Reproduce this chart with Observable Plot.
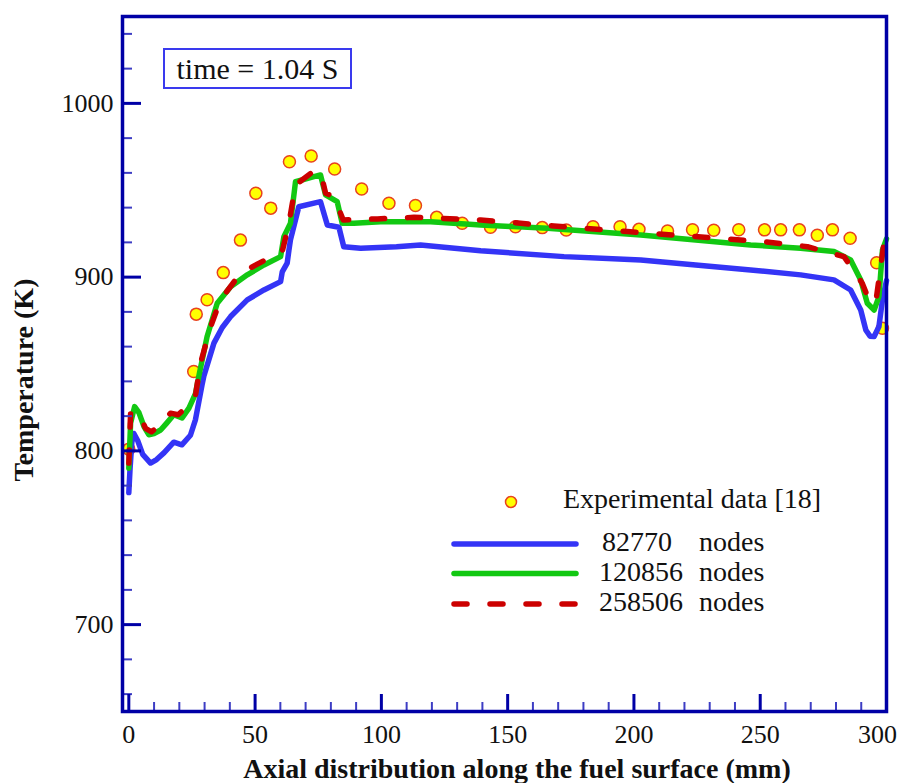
<!DOCTYPE html>
<html>
<head>
<meta charset="utf-8">
<script src="https://cdn.jsdelivr.net/npm/d3@7"></script>
<script src="https://cdn.jsdelivr.net/npm/@observablehq/plot@0.6"></script>
<style>
  html, body { margin: 0; padding: 0; background: #fff; }
  #wrap { position: relative; width: 901px; height: 783px; font-family: "Liberation Serif", "DejaVu Serif", serif; overflow: hidden; }
  #timebox {
    position: absolute; left: 163px; top: 48px; width: 185px; height: 37px;
    border: 2.5px solid #3a3aee; background: #fff;
    font-size: 30px; line-height: 37px; text-align: center; color: #111;
  }
  #overlay { position: absolute; left: 0; top: 0; pointer-events: none; }
  #overlay text { font-family: "Liberation Serif", "DejaVu Serif", serif; fill: #111; }
  #overlay .leg { font-size: 28px; dominant-baseline: middle; }
  #overlay .title { font-size: 28px; font-weight: bold; text-anchor: middle; }
</style>
</head>
<body>
<div id="wrap">
  <div id="chart"></div>
  <div id="timebox">time = 1.04 S</div>
  <svg id="overlay" width="901" height="783"></svg>
</div>
<script>
// Axial position (mm) and surface temperature (K)

// Experimental measurements [18]
const expX = [0, 25.7, 26.7, 31.0, 37.4, 44.2, 50.3, 56.2, 63.6, 72.2, 81.5, 92.2, 103, 113.5, 121.9, 132, 143.2, 153.1, 163.7, 173.2, 183.8, 194.5, 202, 213.3, 223.2, 231.6, 241.5, 251.7, 258.1, 265.5, 272.6, 278.6, 285.6, 296.1, 298.4];
const expT = [801, 845.7, 878.7, 887, 902.6, 921.3, 948.3, 939.7, 966.4, 969.7, 962.2, 950.7, 942.5, 941.2, 934.4, 931, 928.7, 929, 928.5, 927.1, 929, 929, 927.5, 926.5, 927.3, 927, 927.3, 927.2, 927.2, 927.2, 924.1, 927.2, 922.4, 908.3, 870.6];

// Coarse mesh: 82770 nodes
const coarseX = [0, 0.5, 1.2, 2, 3.5, 5.5, 8.6, 11, 14, 17.8, 21, 24.4, 26.4, 29, 29.7, 33.7, 37, 40.3, 46.9, 53.5, 60.1, 60.75, 62.7, 63.4, 64, 67.3, 74.6, 75.9, 78.6, 83.2, 85.1, 91.8, 106, 115.5, 139.3, 172.3, 202.7, 246.2, 266, 279.2, 285.8, 289.8, 291.8, 293.5, 295.1, 297, 298.4, 300];
const coarseT = [776, 790, 805, 810, 806, 798, 793, 795, 799, 805, 803.5, 809, 818, 838, 843, 862, 871, 877.3, 886.9, 892.6, 897.4, 903, 908, 915.6, 921.4, 940.5, 943, 943.4, 930, 928.7, 917.5, 916.6, 917.5, 918.5, 915.2, 911.8, 909.9, 904.1, 901.3, 898.4, 892.6, 881.1, 869.6, 866, 865.8, 871.5, 886.9, 898];

// Medium mesh: 120856 nodes
const mediumX = [0, 0.7, 2.3, 4, 6, 7.9, 10, 12.6, 15, 17.8, 21.1, 23.8, 26.4, 28, 31, 35, 40.3, 46.9, 53.5, 60.1, 61.4, 64, 66, 73.3, 75.9, 77.9, 82.5, 84.5, 89.1, 99.7, 119.5, 139.3, 165.7, 202.7, 246.2, 266, 279.2, 285.8, 289.8, 292.4, 295.1, 297, 298.4, 300];
const mediumT = [790, 816, 825.5, 822, 814, 809.3, 810, 812, 816, 820.8, 818.9, 824.6, 833, 845, 865.8, 885, 894.5, 901.3, 907, 911.8, 923.3, 931, 954.9, 957.8, 958.8, 947.3, 943.4, 931, 931, 931.9, 931.9, 930, 928.1, 924.3, 918.5, 916.6, 914.7, 909.9, 898.4, 885, 881.1, 888.8, 915.6, 922];

// Fine mesh: 258506 nodes
const fineX = [0, 0.7, 2.3, 4.6, 6.6, 9, 12.6, 16.5, 19.5, 23.1, 26.4, 28.4, 32.4, 36.3, 44.2, 55.4, 60.75, 63.4, 66, 72, 75.9, 77.9, 81.2, 84.9, 98.4, 112.9, 139.3, 168.3, 197.4, 251.5, 268.7, 283.2, 290.4, 293, 295.7, 297.7, 300];
const fineT = [793, 821.7, 823, 819.8, 813, 811, 815, 821.7, 820.8, 825.5, 832, 850.5, 871.5, 886.9, 902.2, 911, 914.7, 931, 953, 959.7, 960.7, 948.3, 946.3, 932.9, 933.5, 934.4, 932.9, 929.4, 926.2, 920.4, 917.5, 911.8, 896.5, 887, 885, 906, 930];

// Axis ticks
const xMajor = [0, 50, 100, 150, 200, 250, 300];
const yMajor = [700, 800, 900, 1000];
const xMinor = d3.range(10, 300, 10).filter(v => v % 50 !== 0);
const yMinor = d3.range(660, 1050, 20).filter(v => v % 100 !== 0);

const seriesNames = ["82770", "120856", "258506"];
const seriesColors = ["#3434f6", "#12c812", "#cc0000"];
const xTitle = "Axial distribution along the fuel surface (mm)";
const yTitle = "Temperature (K)";

const zip = (xs, ys) => xs.map((x, i) => ({x, y: ys[i]}));
const experiment = zip(expX, expT);
const coarse = zip(coarseX, coarseT);
const medium = zip(mediumX, mediumT);
const fine = zip(fineX, fineT);

const axisBlue = "#0000a6";
const minorBlue = "#3d3dc4";
const serif = '"Liberation Serif", "DejaVu Serif", serif';
const xLast = xMajor[xMajor.length - 1];

const chart = Plot.plot({
  width: 901,
  height: 783,
  marginLeft: 122,
  marginRight: 15,
  marginTop: 16,
  marginBottom: 72,
  x: {domain: [-2.5, 300], label: null},
  y: {domain: [650, 1050], label: null},
  style: {background: "#fff", fontFamily: serif, fontSize: "26px", color: "#111", overflow: "visible"},
  marks: [
    Plot.dot(experiment, {x: "x", y: "y", r: 6, fill: "#ffff00", stroke: "#e8421e", strokeWidth: 1.5}),
    Plot.line(coarse, {x: "x", y: "y", stroke: seriesColors[0], strokeWidth: 5.5, strokeLinejoin: "round", strokeLinecap: "round"}),
    Plot.line(medium, {x: "x", y: "y", stroke: seriesColors[1], strokeWidth: 5.5, strokeLinejoin: "round", strokeLinecap: "round"}),
    Plot.line(fine, {x: "x", y: "y", stroke: seriesColors[2], strokeWidth: 5.5, strokeDasharray: "13,23", strokeLinecap: "round", strokeLinejoin: "round"}),

    // inward tick marks
    Plot.axisX({ticks: xMinor, tickSize: -9, tickFormat: () => "", stroke: minorBlue, strokeWidth: 2, label: null}),
    Plot.axisY({ticks: yMinor, tickSize: -10, tickFormat: () => "", stroke: minorBlue, strokeWidth: 2, label: null}),
    Plot.axisX({ticks: xMajor, tickSize: -17, tickFormat: () => "", stroke: axisBlue, strokeWidth: 3, label: null}),
    Plot.axisY({ticks: yMajor, tickSize: -19, tickFormat: () => "", stroke: axisBlue, strokeWidth: 3, label: null}),

    // tick labels (the last x label is nudged inward so it stays on the page)
    Plot.axisX({ticks: xMajor.slice(0, -1), tickSize: 0, tickPadding: 13, fontSize: 26, fill: "#111", tickFormat: d => String(d), label: null}),
    Plot.axisX({ticks: [xLast], tickSize: 0, tickPadding: 13, dx: -9, fontSize: 26, fill: "#111", tickFormat: d => String(d), label: null}),
    Plot.axisY({ticks: yMajor, tickSize: 0, tickPadding: 9, fontSize: 26, fill: "#111", tickFormat: d => String(d), label: null}),

    Plot.frame({stroke: axisBlue, strokeWidth: 3.5})
  ]
});
document.getElementById("chart").appendChild(chart);

// Axis titles, legend
const overlay = d3.select("#overlay");
overlay.append("text").attr("class", "title").attr("x", 517).attr("y", 778).text(xTitle);
overlay.append("text").attr("class", "title")
  .attr("transform", "translate(33,380) rotate(-90)").text(yTitle);

overlay.append("circle").attr("cx", 511).attr("cy", 502).attr("r", 5.5)
  .attr("fill", "#ffff00").attr("stroke", "#e8421e").attr("stroke-width", 1.5);
overlay.append("text").attr("class", "leg").attr("x", 563).attr("y", 502).text("Experimental data [18]");
const rowsY = [544, 573.5, 604];
const numX = [602, 599, 599];
seriesNames.forEach((name, i) => {
  const ln = overlay.append("line").attr("x1", 454).attr("x2", 576).attr("y1", rowsY[i]).attr("y2", rowsY[i])
    .attr("stroke", seriesColors[i]).attr("stroke-width", 5.5).attr("stroke-linecap", "round");
  if (i === 2) ln.attr("stroke-dasharray", "13,23");
  overlay.append("text").attr("class", "leg").attr("x", numX[i]).attr("y", rowsY[i] + 1).text(name);
  overlay.append("text").attr("class", "leg").attr("x", 699).attr("y", rowsY[i] + 1).text("nodes");
});
</script>
</body>
</html>
